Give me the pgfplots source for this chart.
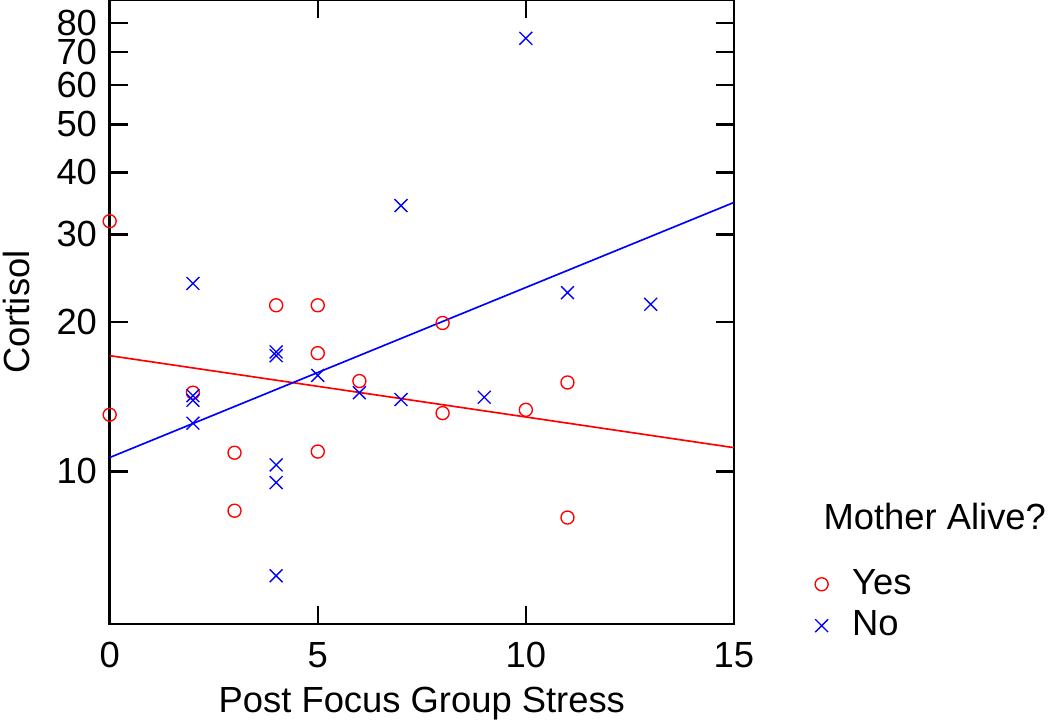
\documentclass[border=0pt]{standalone}
\usepackage{fontspec}
\setmainfont{Liberation Sans}
\usepackage{pgfplots}
\usepackage{pgfplotstable}
\pgfplotsset{compat=1.18}
\pgfplotstableread{
x y
0 31.9
0 13.0
2 14.4
3 10.9
3 8.33
4 21.6
5 21.6
5 17.3
5 10.96
6 15.2
8 19.9
8 13.1
10 13.3
11 15.1
11 8.07
}\yesdata
\pgfplotstableread{
x y
2 23.9
2 14.2
2 13.9
2 12.5
4 17.4
4 17.1
4 10.3
4 9.49
4 6.16
5 15.6
6 14.4
7 34.3
7 13.95
9 14.1
10 74.5
11 22.9
13 21.7
}\nodata
\begin{document}
\fontsize{12}{14}\selectfont
\begin{tikzpicture}
\useasboundingbox (-36.2pt,-32.6pt) rectangle ++(346.5pt,238.6pt);
\begin{axis}[
  name=ax,
  at={(0pt,0pt)}, anchor=south west,
  scale only axis,
  width=206pt, height=206pt,
  ymode=log,
  xmin=0, xmax=15, ymin=4.92, ymax=89,
  xtick={0,5,10,15}, xticklabels={0,5,10,15},
  ytick={10,20,30,40,50,60,70,80}, yticklabels={10,20,30,40,50,60,70,80},
  yminorticks=false, xminorticks=false,
  tick align=inside,
  major tick length=6pt,
  axis line style={line width=0.8pt},
  every tick/.style={black, line width=0.8pt},
  clip=false,
  /pgf/number format/assume math mode=true,
  tick label style={font=\fontsize{12}{14}\selectfont},
  xticklabel style={anchor=base, yshift=-14.4pt},
  xlabel={Post Focus Group Stress}, ylabel={Cortisol},
  label style={font=\fontsize{12}{14}\selectfont},
  xlabel style={at={(axis description cs:0.5,-0.1422)}, anchor=base},
  ylabel style={at={(axis description cs:-0.129,0.5)}, anchor=base},
  legend style={draw=none, fill=none, at={(rel axis cs:1,0)}, anchor=south west,
    xshift=23.6pt, yshift=-9.7pt, row sep=-0.4pt, font=\fontsize{12}{14}\selectfont,
    /tikz/every odd column/.append style={column sep=5.9pt}},
  legend cell align=left,
]
\addplot[only marks, mark=o, mark size=2.15pt, color=red, mark options={line width=0.45pt}] table[x=x,y=y] {\yesdata};
\addlegendentry{Yes}
\addplot[only marks, mark=x, mark size=3.0pt, color=blue, mark options={line width=0.45pt}] table[x=x,y=y] {\nodata};
\addlegendentry{No}
\addplot[red, line width=0.55pt, forget plot] coordinates {(0,17.1) (15,11.16)};
\addplot[blue, line width=0.55pt, forget plot] coordinates {(0,10.66) (15,34.8)};
\end{axis}
\node[anchor=base west, inner sep=0pt, font=\fontsize{12}{14}\selectfont] at ([xshift=29.4pt,yshift=31.4pt]ax.south east) {Mother Alive?};
\end{tikzpicture}
\end{document}
